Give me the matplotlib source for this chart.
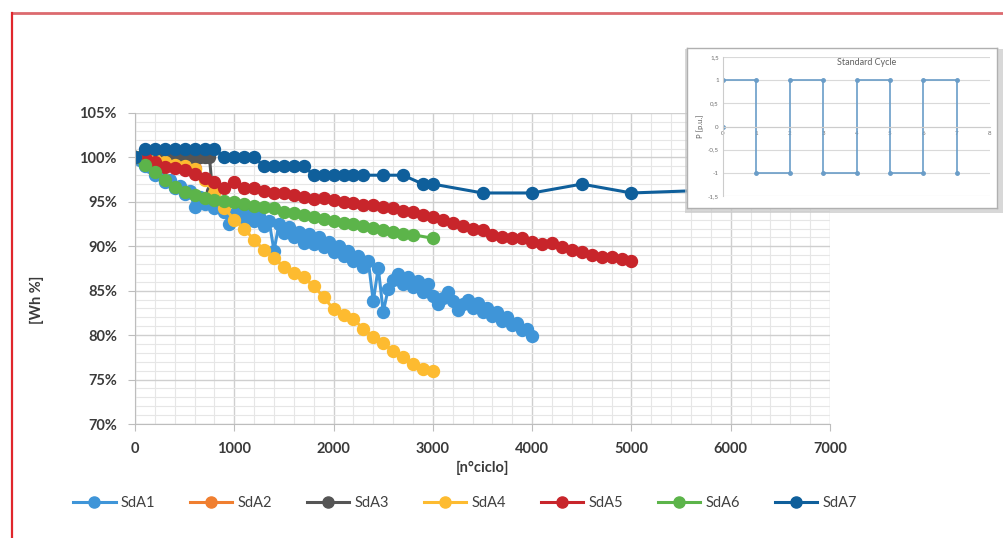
import matplotlib
matplotlib.use("Agg")
import matplotlib.pyplot as plt
import matplotlib.patches as mpatches
from matplotlib.lines import Line2D
from matplotlib.ticker import MultipleLocator, FuncFormatter

plt.rcParams["font.family"] = ["Lato", "DejaVu Sans"]

# SdA1 - dense measurements every 50 cycles
sda1_x = list(range(0, 4001, 50))
sda1_y = [100.0, 99.7, 99.0, 98.9, 98.0, 98.1, 97.2, 97.5, 96.6, 96.8,
          95.9, 96.2, 94.4, 95.6, 94.8, 95.2, 94.3, 94.8, 93.9, 92.5,
          93.6, 94.1, 93.1, 93.8, 92.8, 93.4, 92.3, 92.9, 89.5, 92.5,
          91.5, 92.2, 91.1, 91.6, 90.4, 91.4, 90.3, 91.0, 89.9, 90.5,
          89.4, 90.0, 88.9, 89.5, 88.3, 88.9, 87.7, 88.3, 83.8, 87.6,
          82.6, 85.2, 86.2, 86.9, 85.8, 86.5, 85.4, 86.1, 84.9, 85.7,
          84.4, 83.5, 84.2, 84.9, 83.8, 82.8, 83.5, 84.0, 83.0, 83.6,
          82.6, 83.1, 82.1, 82.6, 81.6, 82.0, 81.1, 81.4, 80.6, 80.7,
          79.9]

sda2_x = [0, 100, 200, 300, 400, 500, 600]
sda2_y = [100.0, 99.8, 99.6, 99.4, 99.2, 99.0, 98.8]

sda3_x = [0, 50, 100, 150, 200, 250, 300, 350, 400, 450, 500, 550, 600, 650, 700, 750, 780]
sda3_y = [100.0] * 16 + [96.2]

sda4_x = list(range(0, 3001, 100))
sda4_y = [100.0, 99.9, 99.7, 99.5, 99.2, 99.0, 98.7, 97.5, 96.0, 94.3,
          93.0, 92.0, 90.7, 89.6, 88.7, 87.7, 87.0, 86.5, 85.5, 84.3,
          82.9, 82.3, 81.8, 80.7, 79.8, 79.1, 78.2, 77.5, 76.7, 76.2,
          76.0]

sda5_x = list(range(0, 5001, 100))
sda5_y = [100.0, 100.0, 99.5, 98.9, 98.8, 98.6, 98.1, 97.7, 97.2, 96.6,
          97.2, 96.6, 96.6, 96.2, 96.0, 96.0, 95.8, 95.5, 95.3, 95.4,
          95.2, 95.0, 94.9, 94.7, 94.7, 94.4, 94.3, 94.0, 93.9, 93.5,
          93.3, 93.0, 92.6, 92.3, 92.0, 91.8, 91.3, 91.1, 90.9, 90.9,
          90.5, 90.3, 90.4, 89.9, 89.6, 89.4, 89.0, 88.8, 88.8, 88.6,
          88.3]

sda6_x = list(range(0, 2801, 100)) + [3000]
sda6_y = [100.0, 99.1, 98.4, 97.5, 96.7, 96.1, 95.8, 95.4, 95.2, 95.1,
          95.0, 94.8, 94.5, 94.4, 94.3, 93.9, 93.7, 93.5, 93.3, 93.1,
          92.8, 92.6, 92.5, 92.3, 92.1, 91.8, 91.6, 91.4, 91.3, 90.9]

sda7_x = [0, 100, 200, 300, 400, 500, 600, 700, 800, 900, 1000, 1100, 1200,
          1300, 1400, 1500, 1600, 1700, 1800, 1900, 2000, 2100, 2200, 2300,
          2500, 2700, 2900, 3000, 3500, 4000, 4500, 5000, 6000]
sda7_y = [100.0, 101.0, 101.0, 101.0, 101.0, 101.0, 101.0, 101.0, 101.0,
          100.0, 100.0, 100.0, 100.0, 99.0, 99.0, 99.0, 99.0, 99.0,
          98.0, 98.0, 98.0, 98.0, 98.0, 98.0, 98.0, 98.0, 97.0, 97.0,
          96.0, 96.0, 97.0, 96.0, 96.4]

series = [
    ("SdA1", sda1_x, sda1_y, "#3f95d8"),
    ("SdA2", sda2_x, sda2_y, "#f07f30"),
    ("SdA3", sda3_x, sda3_y, "#555555"),
    ("SdA4", sda4_x, sda4_y, "#fdbb30"),
    ("SdA5", sda5_x, sda5_y, "#c8252b"),
    ("SdA6", sda6_x, sda6_y, "#5cb44a"),
    ("SdA7", sda7_x, sda7_y, "#0f5f9b"),
]

# standard cycle (inset)
cycle_t = [0, 0, 1, 1, 2, 2, 3, 3, 4, 4, 5, 5, 6, 6, 7, 7]
cycle_p = [0, 1, 1, -1, -1, 1, 1, -1, -1, 1, 1, -1, -1, 1, 1, -1]

W, H = 1004, 538
fig = plt.figure(figsize=(W / 100, H / 100), dpi=100)

ax = fig.add_axes([135 / W, 1 - 424 / H, 695 / W, 311 / H])
for name, xs, ys, col in series:
    ax.plot(xs, ys, color=col, lw=2.2, marker="o", ms=8.6, mec=col, mfc=col, label=name)

ax.set_xlim(0, 7000)
ax.set_ylim(70, 105)
ax.xaxis.set_major_locator(MultipleLocator(1000))
ax.xaxis.set_minor_locator(MultipleLocator(200))
ax.yaxis.set_major_locator(MultipleLocator(5))
ax.yaxis.set_minor_locator(MultipleLocator(1))
ax.yaxis.set_major_formatter(FuncFormatter(lambda v, p: f"{v:.0f}%"))
ax.grid(which="major", color="#cfcfcf", lw=1.0)
ax.grid(which="minor", color="#e6e6e6", lw=0.8)
ax.set_axisbelow(True)
for s in ["top", "right"]:
    ax.spines[s].set_visible(False)
for s in ["left", "bottom"]:
    ax.spines[s].set_color("#bdbdbd")
ax.tick_params(which="major", length=5, color="#bdbdbd", labelsize=10.5, labelcolor="#3a3a3a", pad=8)
ax.tick_params(which="minor", length=0)
for lab in ax.get_xticklabels() + ax.get_yticklabels():
    lab.set_fontweight("bold")

fig.text(483 / W, 1 - 468 / H, "[n°ciclo]", ha="center", va="center",
         fontsize=10.5, fontweight="bold", color="#3a3a3a")
fig.text(37 / W, 1 - 300 / H, "[Wh %]", ha="center", va="center", rotation=90,
         fontsize=10.5, fontweight="bold", color="#3a3a3a")

handles = [Line2D([], [], color=c, lw=2.2, marker="o", ms=8, mec=c, mfc=c) for _, _, _, c in series]
fig.legend(handles, [s[0] for s in series], loc="center", ncol=7,
           bbox_to_anchor=(465 / W, 1 - 503 / H), frameon=False,
           fontsize=10.5, labelcolor="#404040", handlelength=2.9,
           handletextpad=0.35, columnspacing=2.4)

# inset box with shadow
bx0, by0, bx1, by1 = 687, 48, 997, 208
shadow = mpatches.FancyBboxPatch(((bx0 + 2) / W, 1 - (by1 + 3) / H), (bx1 - bx0) / W, (by1 - by0) / H,
                                 boxstyle="square,pad=0.004", transform=fig.transFigure,
                                 fc="#c8c8c8", ec="none", alpha=0.7, zorder=2)
fig.patches.append(shadow)

frame = fig.add_axes([bx0 / W, 1 - by1 / H, (bx1 - bx0) / W, (by1 - by0) / H], zorder=3)
frame.set_xticks([])
frame.set_yticks([])
frame.set_facecolor("white")
for s in frame.spines.values():
    s.set_color("#b0b0b0")
    s.set_linewidth(1.0)

ins = fig.add_axes([723 / W, 1 - 196 / H, 267 / W, 139 / H], zorder=4)
ins.plot(cycle_t, cycle_p, color="#6a9dc8", lw=1.2, marker="o", ms=2.5)
ins.set_xlim(0, 8)
ins.set_ylim(-1.5, 1.5)
ins.set_yticks([-1.5, -1, -0.5, 0, 0.5, 1, 1.5])
ins.set_yticklabels(["-1,5", "-1", "-0,5", "0", "0,5", "1", "1,5"])
ins.set_xticks(range(0, 9))
ins.grid(axis="y", color="#d9d9d9", lw=0.8)
ins.set_facecolor("none")
ins.spines["bottom"].set_position(("data", 0))
ins.spines["top"].set_visible(False)
ins.spines["right"].set_visible(False)
ins.spines["left"].set_color("#cccccc")
ins.spines["bottom"].set_color("#cccccc")
ins.tick_params(labelsize=4.5, labelcolor="#707070", length=0, pad=3)
ins.set_ylabel("P [p.u.]", fontsize=5.5, color="#606060", labelpad=3)
ins.text(4.3, 1.38, "Standard Cycle", ha="center", va="center", fontsize=6.5, color="#606060")

# red frame lines
fig.add_artist(Line2D([12 / W, 1], [1 - 13 / H, 1 - 13 / H], color="#dc6a6f", lw=2.0))
fig.add_artist(Line2D([12 / W, 12 / W], [1 - 13 / H, 0], color="#e0262c", lw=1.6))

fig.savefig("out.png", dpi=100)
